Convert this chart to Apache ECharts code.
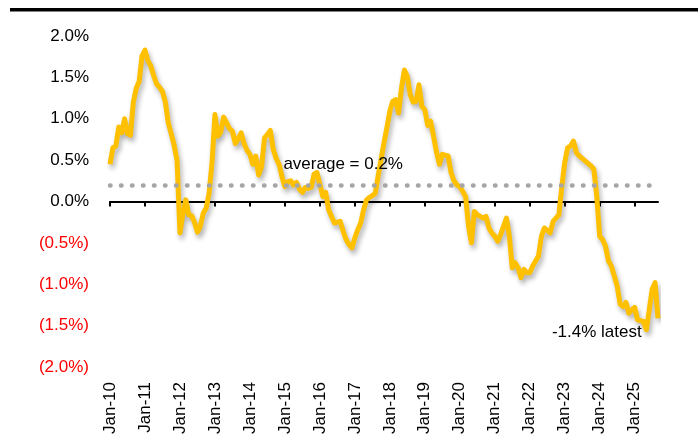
<!DOCTYPE html>
<html>
<head>
<meta charset="utf-8">
<script src="https://cdn.jsdelivr.net/npm/echarts@6/dist/echarts.min.js"></script>
<style>
html, body { margin: 0; padding: 0; background: #fff; }
#chart { width: 698px; height: 447px; }
</style>
</head>
<body>
<div id="chart"></div>
<script>
var years = ['10', '11', '12', '13', '14', '15', '16', '17', '18', '19', '20', '21', '22', '23', '24', '25'];
var monthNames = ['Jan', 'Feb', 'Mar', 'Apr', 'May', 'Jun', 'Jul', 'Aug', 'Sep', 'Oct', 'Nov', 'Dec'];

// monthly values, % (Jan-10 .. Sep-25)
var v2010 = [0.45, 0.65, 0.67, 0.90, 0.83, 1.00, 0.82, 0.80, 1.20, 1.37, 1.45, 1.76];
var v2011 = [1.83, 1.70, 1.64, 1.52, 1.42, 1.38, 1.33, 1.20, 0.95, 0.82, 0.68, 0.50];
var v2012 = [-0.38, -0.15, 0.02, -0.16, -0.17, -0.25, -0.37, -0.30, -0.14, -0.08, 0.10, 0.47];
var v2013 = [1.05, 0.79, 0.84, 1.02, 0.95, 0.88, 0.85, 0.70, 0.76, 0.83, 0.70, 0.62];
var v2014 = [0.57, 0.45, 0.55, 0.32, 0.42, 0.77, 0.81, 0.86, 0.63, 0.52, 0.45, 0.30];
var v2015 = [0.18, 0.24, 0.25, 0.20, 0.23, 0.15, 0.11, 0.17, 0.16, 0.17, 0.33, 0.35];
var v2016 = [0.21, 0.06, 0.11, -0.10, -0.18, -0.26, -0.25, -0.24, -0.36, -0.46, -0.52, -0.56];
var v2017 = [-0.44, -0.34, -0.26, -0.10, 0.02, 0.05, 0.07, 0.10, 0.31, 0.51, 0.71, 0.89];
var v2018 = [1.09, 1.21, 1.23, 1.07, 1.37, 1.59, 1.51, 1.29, 1.20, 1.21, 1.41, 1.15];
var v2019 = [1.11, 0.92, 0.97, 0.79, 0.60, 0.45, 0.57, 0.56, 0.55, 0.35, 0.25, 0.20];
var v2020 = [0.18, 0.12, 0.06, -0.30, -0.50, -0.12, -0.16, -0.18, -0.20, -0.18, -0.32, -0.38];
var v2021 = [-0.42, -0.48, -0.40, -0.30, -0.20, -0.42, -0.80, -0.74, -0.80, -0.92, -0.82, -0.86];
var v2022 = [-0.86, -0.78, -0.72, -0.66, -0.42, -0.32, -0.35, -0.38, -0.24, -0.20, -0.16, 0.18];
var v2023 = [0.47, 0.65, 0.67, 0.73, 0.59, 0.55, 0.52, 0.49, 0.46, 0.43, 0.39, 0.06];
var v2024 = [-0.42, -0.46, -0.54, -0.72, -0.78, -0.90, -1.02, -1.24, -1.27, -1.22, -1.35, -1.31];
var v2025 = [-1.28, -1.43, -1.44, -1.45, -1.55, -1.31, -1.06, -0.98, -1.41];

var average = 0.2;
var yTicks = [-2, -1.5, -1, -0.5, 0, 0.5, 1, 1.5, 2];

var values = [].concat(v2010, v2011, v2012, v2013, v2014, v2015, v2016, v2017,
    v2018, v2019, v2020, v2021, v2022, v2023, v2024, v2025);
var categories = [];
for (var i = 0; i < values.length; i++) {
    categories.push(monthNames[i % 12] + '-' + years[Math.floor(i / 12)]);
}

var font = '"Liberation Sans", Arial, sans-serif';
var isJan = function (index) { return index % 12 === 0; };

var chart = echarts.init(document.getElementById('chart'));
var option = {
    animation: false,
    backgroundColor: '#fff',
    grid: {
        left: 110,
        right: 40,
        top: 36,
        bottom: 80,
        containLabel: false,
        outerBoundsMode: 'none'
    },
    graphic: [{
        type: 'rect',
        shape: { x: 10, y: 8, width: 688, height: 3.5 },
        style: { fill: '#000' }
    }],
    xAxis: [{
        // zero line with year ticks
        type: 'category',
        boundaryGap: false,
        data: categories,
        axisLine: { onZero: true, lineStyle: { color: '#000', width: 2 } },
        axisTick: { show: true, interval: isJan, length: 5, lineStyle: { color: '#000', width: 2 } },
        axisLabel: { show: false },
        splitLine: { show: false }
    }, {
        // year labels along the bottom
        type: 'category',
        position: 'bottom',
        boundaryGap: false,
        data: categories,
        axisLine: { show: false, onZero: false },
        axisTick: { show: false },
        axisLabel: {
            interval: isJan,
            rotate: 90,
            margin: 15,
            color: '#000',
            fontSize: 17,
            fontFamily: font
        },
        splitLine: { show: false }
    }],
    yAxis: {
        type: 'value',
        min: yTicks[0],
        max: yTicks[yTicks.length - 1],
        interval: 0.5,
        axisLine: { show: false },
        axisTick: { show: false },
        splitLine: { show: false },
        axisLabel: {
            margin: 21,
            fontSize: 17,
            fontFamily: font,
            formatter: function (v) {
                return v < 0 ? '(' + (-v).toFixed(1) + '%)' : v.toFixed(1) + '%';
            },
            color: function (v) {
                return v < 0 ? '#FF0000' : '#000';
            }
        }
    },
    series: [{
        type: 'line',
        xAxisIndex: 0,
        data: values,
        showSymbol: false,
        symbol: 'none',
        lineStyle: {
            color: '#FFC000',
            width: 5,
            join: 'round',
            shadowColor: 'rgba(0,0,0,0.3)',
            shadowBlur: 5,
            shadowOffsetX: 2,
            shadowOffsetY: 4
        },
        z: 3,
        markLine: {
            silent: true,
            symbol: 'none',
            label: { show: false },
            lineStyle: { color: '#A6A6A6', width: 4.5, type: [0.5, 10.5], cap: 'round' },
            data: [{ yAxis: average }]
        },
        markPoint: {
            silent: true,
            symbol: 'rect',
            symbolSize: 1,
            itemStyle: { color: 'transparent' },
            label: {
                show: true,
                position: 'inside',
                color: '#000',
                fontSize: 17,
                fontFamily: font
            },
            data: [
                { coord: ['Sep-16', 0.45], label: { formatter: 'average = 0.2%' } },
                { coord: ['Dec-23', -1.58], label: { formatter: '-1.4% latest' } }
            ]
        }
    }]
};
chart.setOption(option, true);
</script>
</body>
</html>
